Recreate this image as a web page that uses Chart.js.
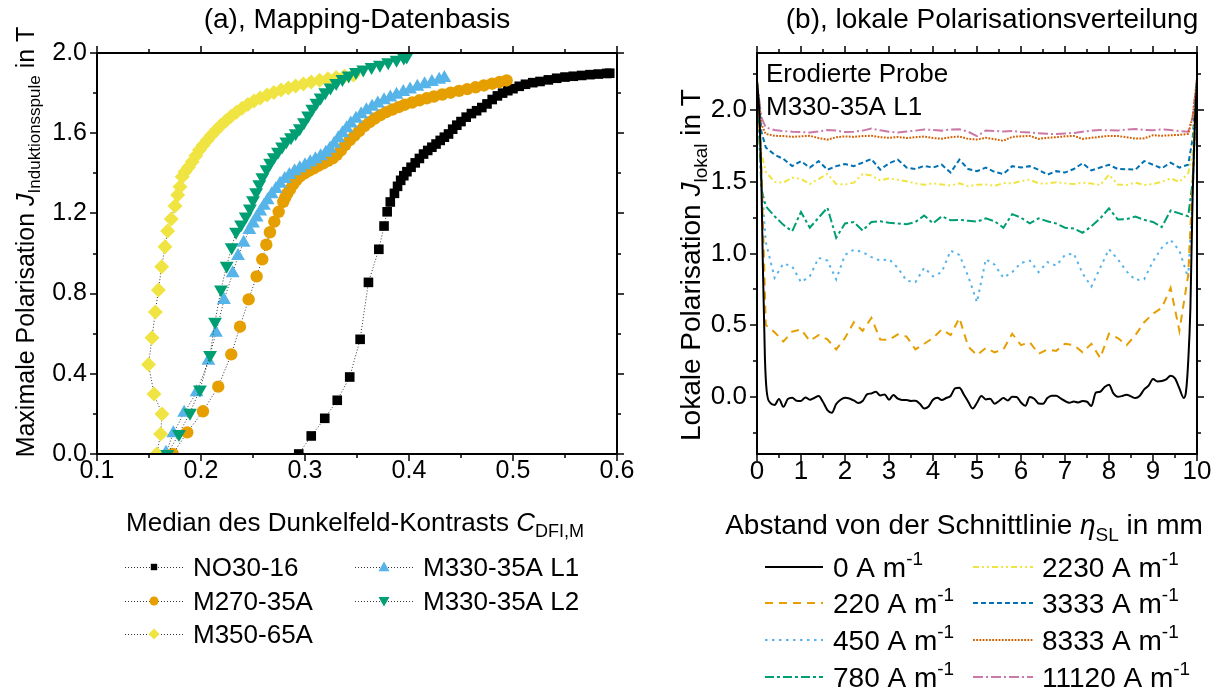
<!DOCTYPE html>
<html lang="de">
<head>
<meta charset="UTF-8">
<title>Polarisation</title>
<script src="https://cdn.jsdelivr.net/npm/chart.js@4.4.1/dist/chart.umd.min.js"></script>
<style>
    html, body { margin: 0; padding: 0; background: #fff; }
    #wrap { position: relative; width: 1219px; height: 688px; }
    #chartA { position: absolute; left: 0; top: 0; }
    #chartB { position: absolute; left: 640px; top: 0; }
</style>
</head>
<body>
<div id="wrap">
    <canvas id="chartA" width="640" height="688"></canvas>
    <canvas id="chartB" width="579" height="688"></canvas>
</div>
<script>
    // ---------- (a) Mapping-Datenbasis : [C_DFI,M, J_Induktionsspule] ----------
    const no30 = [[0.294, 0.000], [0.306, 0.090], [0.319, 0.178], [0.331, 0.268], [0.343, 0.384], [0.353, 0.572],
        [0.361, 0.856], [0.371, 1.021], [0.376, 1.137], [0.379, 1.208], [0.382, 1.257],
        [0.386, 1.300], [0.389, 1.335], [0.392, 1.365], [0.395, 1.388], [0.398, 1.408], [0.402, 1.430],
        [0.406, 1.452], [0.410, 1.474], [0.414, 1.496], [0.418, 1.514], [0.422, 1.530], [0.426, 1.546],
        [0.430, 1.564], [0.434, 1.580], [0.438, 1.596], [0.442, 1.620], [0.446, 1.640], [0.450, 1.658],
        [0.455, 1.680], [0.460, 1.698], [0.465, 1.712], [0.470, 1.728], [0.475, 1.746], [0.480, 1.768],
        [0.485, 1.786], [0.490, 1.800], [0.495, 1.812], [0.500, 1.822], [0.506, 1.834], [0.512, 1.844],
        [0.519, 1.852], [0.526, 1.858], [0.534, 1.866], [0.542, 1.874], [0.550, 1.880], [0.558, 1.884],
        [0.566, 1.888], [0.574, 1.892], [0.582, 1.895], [0.590, 1.898], [0.593, 1.899]];
    const m270 = [[0.1728, 0.000], [0.1868, 0.108], [0.2019, 0.213], [0.2166, 0.336], [0.2291, 0.497],
        [0.2375, 0.635], [0.2458, 0.771], [0.2535, 0.886], [0.2589, 0.971], [0.2628, 1.044], [0.2663, 1.106],
        [0.2705, 1.159], [0.2747, 1.208], [0.2791, 1.258], [0.2810, 1.280], [0.2830, 1.300], [0.2856, 1.320],
        [0.2885, 1.345], [0.2915, 1.365], [0.2952, 1.385], [0.2995, 1.400], [0.3040, 1.413], [0.3085, 1.425],
        [0.3130, 1.438], [0.3175, 1.450], [0.3220, 1.462], [0.3265, 1.475], [0.3305, 1.492], [0.3345, 1.515],
        [0.3385, 1.540], [0.3430, 1.565], [0.3475, 1.588], [0.3520, 1.610], [0.3570, 1.635], [0.3620, 1.655],
        [0.3670, 1.673], [0.3725, 1.690], [0.3780, 1.705], [0.3840, 1.718], [0.3900, 1.730], [0.3960, 1.742],
        [0.4030, 1.753], [0.4100, 1.764], [0.4170, 1.774], [0.4240, 1.783], [0.4320, 1.793], [0.4400, 1.802],
        [0.4480, 1.811], [0.4560, 1.820], [0.4640, 1.829], [0.4720, 1.838], [0.4800, 1.847], [0.4870, 1.855],
        [0.4939, 1.863]];
    const m350 = [[0.1574, 0.000], [0.1612, 0.100], [0.1625, 0.200], [0.1548, 0.299], [0.1496, 0.447],
        [0.1529, 0.580], [0.1561, 0.708], [0.1590, 0.818], [0.1622, 0.934], [0.1654, 1.034], [0.1679, 1.112],
        [0.1714, 1.172], [0.1750, 1.237], [0.1776, 1.292], [0.1798, 1.333], [0.1820, 1.383], [0.1846, 1.408],
        [0.1880, 1.430], [0.1915, 1.458], [0.1950, 1.488], [0.1985, 1.516], [0.2020, 1.540], [0.2060, 1.565],
        [0.2100, 1.590], [0.2145, 1.615], [0.2190, 1.638], [0.2240, 1.662], [0.2290, 1.685], [0.2340, 1.705],
        [0.2395, 1.725], [0.2450, 1.743], [0.2510, 1.760], [0.2570, 1.775], [0.2635, 1.790], [0.2700, 1.803],
        [0.2770, 1.815], [0.2840, 1.826], [0.2910, 1.836], [0.2985, 1.846], [0.3060, 1.855], [0.3140, 1.864],
        [0.3220, 1.871], [0.3300, 1.878], [0.3380, 1.884], [0.3465, 1.890]];
    const l1 = [[0.1663, 0.006], [0.1734, 0.103], [0.1838, 0.206], [0.1958, 0.308], [0.2071, 0.465],
        [0.2144, 0.605], [0.2221, 0.768], [0.2305, 0.901], [0.2356, 0.988], [0.2410, 1.054], [0.2465, 1.117],
        [0.2500, 1.150], [0.2535, 1.180], [0.2570, 1.210], [0.2605, 1.238], [0.2640, 1.265], [0.2680, 1.295],
        [0.2720, 1.322], [0.2760, 1.348], [0.2805, 1.372], [0.2850, 1.392], [0.2900, 1.410], [0.2950, 1.425],
        [0.3000, 1.440], [0.3050, 1.455], [0.3100, 1.470], [0.3150, 1.485], [0.3200, 1.502], [0.3240, 1.522],
        [0.3280, 1.548], [0.3320, 1.575], [0.3360, 1.600], [0.3400, 1.625], [0.3440, 1.648], [0.3490, 1.672],
        [0.3540, 1.694], [0.3590, 1.714], [0.3645, 1.732], [0.3700, 1.748], [0.3760, 1.764], [0.3820, 1.778],
        [0.3880, 1.792], [0.3945, 1.805], [0.4010, 1.818], [0.4080, 1.832], [0.4150, 1.844], [0.4220, 1.855],
        [0.4290, 1.866], [0.4340, 1.875]];
    const l2 = [[0.1676, 0.000], [0.1788, 0.100], [0.1894, 0.206], [0.1990, 0.322], [0.2087, 0.494],
        [0.2135, 0.660], [0.2192, 0.821], [0.2247, 0.939], [0.2295, 1.031], [0.2337, 1.109], [0.2385, 1.145],
        [0.2430, 1.185], [0.2470, 1.225], [0.2500, 1.265], [0.2530, 1.305], [0.2560, 1.345], [0.2590, 1.380],
        [0.2630, 1.420], [0.2665, 1.452], [0.2700, 1.480], [0.2740, 1.508], [0.2780, 1.534], [0.2820, 1.558],
        [0.2865, 1.580], [0.2910, 1.600], [0.2950, 1.625], [0.2990, 1.655], [0.3030, 1.688], [0.3070, 1.722],
        [0.3110, 1.752], [0.3150, 1.778], [0.3195, 1.804], [0.3245, 1.828], [0.3300, 1.850], [0.3360, 1.870],
        [0.3420, 1.888], [0.3490, 1.905], [0.3560, 1.918], [0.3640, 1.930], [0.3720, 1.942], [0.3800, 1.954],
        [0.3880, 1.966], [0.3950, 1.978], [0.3978, 1.982]];
    const xTicksA = [0.1, 0.2, 0.3, 0.4, 0.5, 0.6];
    const xMinorA = [0.15, 0.25, 0.35, 0.45, 0.55];
    const yTicksA = [0, 0.4, 0.8, 1.2, 1.6, 2.0];
    const yMinorA = [0.2, 0.6, 1.0, 1.4, 1.8];

    // ---------- (b) lokale Polarisationsverteilung : eta_SL in mm ----------
    const j0 = [[0, 2.2], [0.05, 2.0], [0.1, 1.5], [0.13, 0.97], [0.18, 0.27], [0.22, 0.04],
        [0.3, -0.042], [0.4, -0.058], [0.5, -0.016], [0.6, -0.070], [0.7, -0.016], [0.8, -0.007], [0.9, -0.028],
        [1.0, -0.030], [1.1, -0.005], [1.2, -0.021], [1.3, -0.009], [1.4, 0.005], [1.5, -0.037], [1.6, -0.093], [1.7, -0.112], [1.8, -0.051], [1.9, -0.021],
        [2.0, -0.007], [2.1, -0.012], [2.2, -0.026], [2.3, -0.044], [2.4, -0.030], [2.5, 0.016], [2.6, 0.023], [2.7, 0.035], [2.8, 0.009], [2.9, 0.016],
        [3.0, -0.021], [3.1, 0.012], [3.2, -0.014], [3.3, -0.023], [3.4, -0.023], [3.5, -0.030], [3.6, -0.028], [3.7, -0.049], [3.8, -0.082], [3.9, -0.068],
        [4.0, -0.021], [4.1, -0.007], [4.2, -0.023], [4.3, -0.009], [4.4, 0.005], [4.5, 0.058], [4.6, 0.063], [4.7, 0.016], [4.8, -0.035], [4.9, -0.082],
        [5.0, -0.042], [5.1, 0.005], [5.2, -0.019], [5.3, -0.014], [5.4, -0.049], [5.5, -0.030], [5.6, -0.009], [5.7, -0.026], [5.8, 0.000], [5.9, -0.002],
        [6.0, -0.040], [6.1, -0.063], [6.2, -0.002], [6.3, -0.014], [6.4, -0.047], [6.5, -0.049], [6.6, -0.009], [6.7, 0.007], [6.8, 0.007], [6.9, -0.012],
        [7.0, -0.030], [7.1, -0.042], [7.2, -0.033], [7.3, -0.040], [7.4, -0.030], [7.5, -0.035], [7.6, -0.065], [7.7, 0.028], [7.8, 0.035], [7.9, 0.068],
        [8.0, 0.084], [8.1, 0.023], [8.2, 0.000], [8.3, 0.005], [8.4, 0.014], [8.5, 0.002], [8.6, -0.009], [8.7, 0.007], [8.8, 0.051], [8.9, 0.077],
        [9.0, 0.124], [9.1, 0.107], [9.2, 0.110], [9.3, 0.121], [9.4, 0.147], [9.5, 0.128], [9.6, 0.058], [9.7, -0.009],
        [9.75, 0.035], [9.8, 0.245], [9.85, 0.62], [9.9, 1.4], [9.95, 1.9], [10, 2.2]];
    const etaMm = [0, 0.1, 0.2, 0.4, 0.6, 0.8, 1.0, 1.2, 1.4, 1.6, 1.8, 2.0, 2.2, 2.4, 2.6, 2.8, 3.0, 3.2, 3.4, 3.6,
        3.8, 4.0, 4.2, 4.4, 4.6, 4.8, 5.0, 5.2, 5.4, 5.6, 5.8, 6.0, 6.2, 6.4, 6.6, 6.8, 7.0, 7.2, 7.4, 7.6,
        7.8, 8.0, 8.2, 8.4, 8.6, 8.8, 9.0, 9.2, 9.4, 9.6, 9.8, 9.9, 10];
    const j220 = [2.2, 1.6, 0.50, 0.45, 0.385, 0.455, 0.47, 0.39, 0.43, 0.40,
        0.33, 0.41, 0.52, 0.46, 0.55, 0.40, 0.397, 0.435, 0.42, 0.33,
        0.37, 0.41, 0.47, 0.43, 0.55, 0.35, 0.29, 0.34, 0.31, 0.33,
        0.44, 0.36, 0.38, 0.30, 0.33, 0.32, 0.37, 0.36, 0.31, 0.37,
        0.27, 0.44, 0.41, 0.36, 0.43, 0.52, 0.58, 0.62, 0.76, 0.46,
        0.85, 1.5, 2.2];
    const j450 = [2.2, 1.5, 1.08, 0.83, 0.93, 0.91, 0.80, 0.84, 0.97, 0.95,
        0.82, 0.99, 1.027, 1.01, 0.975, 0.95, 0.96, 0.90, 0.81, 0.80,
        0.90, 0.84, 0.87, 1.02, 0.99, 0.84, 0.66, 0.96, 0.922, 0.83,
        0.87, 0.934, 0.95, 0.87, 0.94, 0.915, 0.99, 1.0, 0.86, 0.77,
        0.90, 1.03, 0.96, 0.875, 0.815, 0.82, 0.945, 1.04, 1.095, 1.02,
        0.83, 1.4, 2.2];
    const j780 = [2.2, 1.45, 1.33, 1.26, 1.20, 1.155, 1.29, 1.18, 1.25, 1.32,
        1.11, 1.21, 1.22, 1.16, 1.22, 1.225, 1.215, 1.21, 1.205, 1.22,
        1.265, 1.21, 1.26, 1.232, 1.235, 1.228, 1.222, 1.245, 1.225, 1.18,
        1.275, 1.25, 1.21, 1.245, 1.225, 1.21, 1.18, 1.175, 1.145, 1.19,
        1.245, 1.315, 1.238, 1.24, 1.258, 1.235, 1.22, 1.185, 1.30, 1.28,
        1.26, 1.50, 2.2];
    const j2230 = [2.2, 1.70, 1.57, 1.50, 1.495, 1.53, 1.52, 1.485, 1.52, 1.555,
        1.485, 1.482, 1.495, 1.555, 1.545, 1.51, 1.525, 1.515, 1.505, 1.49,
        1.48, 1.49, 1.482, 1.475, 1.49, 1.47, 1.48, 1.482, 1.472, 1.492,
        1.49, 1.505, 1.515, 1.49, 1.488, 1.498, 1.49, 1.485, 1.494, 1.488,
        1.478, 1.55, 1.482, 1.478, 1.495, 1.478, 1.485, 1.5, 1.525, 1.5,
        1.56, 1.70, 2.2];
    const j3333 = [2.2, 1.85, 1.74, 1.69, 1.66, 1.61, 1.645, 1.60, 1.645, 1.585,
        1.61, 1.625, 1.61, 1.635, 1.66, 1.585, 1.63, 1.655, 1.60, 1.59,
        1.612, 1.60, 1.62, 1.565, 1.655, 1.59, 1.575, 1.60, 1.57, 1.555,
        1.61, 1.60, 1.61, 1.585, 1.55, 1.575, 1.565, 1.59, 1.63, 1.58,
        1.60, 1.62, 1.59, 1.588, 1.585, 1.645, 1.62, 1.595, 1.635, 1.60,
        1.62, 1.80, 2.2];
    const j8333 = [2.2, 1.9, 1.835, 1.822, 1.82, 1.815, 1.818, 1.822, 1.806, 1.795,
        1.812, 1.818, 1.814, 1.82, 1.822, 1.812, 1.808, 1.814, 1.806, 1.812,
        1.817, 1.806, 1.802, 1.812, 1.817, 1.800, 1.796, 1.808, 1.798, 1.787,
        1.815, 1.818, 1.821, 1.800, 1.808, 1.812, 1.818, 1.821, 1.800, 1.808,
        1.815, 1.821, 1.820, 1.812, 1.803, 1.804, 1.826, 1.822, 1.826, 1.828,
        1.835, 1.95, 2.22];
    const j11120 = [2.2, 1.95, 1.88, 1.862, 1.855, 1.850, 1.848, 1.845, 1.852, 1.862,
        1.858, 1.848, 1.850, 1.858, 1.872, 1.860, 1.850, 1.845, 1.852, 1.858,
        1.866, 1.862, 1.858, 1.866, 1.868, 1.850, 1.82, 1.858, 1.856, 1.852,
        1.856, 1.848, 1.845, 1.840, 1.836, 1.834, 1.838, 1.842, 1.850, 1.858,
        1.862, 1.860, 1.858, 1.866, 1.870, 1.862, 1.860, 1.866, 1.862, 1.855,
        1.85, 1.95, 2.22];
    const xTicksB = [0, 1, 2, 3, 4, 5, 6, 7, 8, 9, 10];
    const xMinorB = [0.5, 1.5, 2.5, 3.5, 4.5, 5.5, 6.5, 7.5, 8.5, 9.5];
    const yTicksB = [0, 0.5, 1.0, 1.5, 2.0];
    const yMinorB = [-0.25, 0.25, 0.75, 1.25, 1.75, 2.25];

    const FONT = '"Liberation Sans", Arial, Helvetica, sans-serif';
    Chart.defaults.font.family = FONT;
    Chart.defaults.color = '#000';

    function pairs(list) { return list.map(p => ({ x: p[0], y: p[1] })); }
    function zip(xs, ys) { return xs.map((x, i) => ({ x: x, y: ys[i] })); }

    // text with italic / sub / superscript parts, y is the baseline
    function rich(ctx, parts, x, y, align, rotate) {
        ctx.save();
        ctx.translate(x, y);
        if (rotate) ctx.rotate(-Math.PI / 2);
        ctx.fillStyle = '#000';
        ctx.textBaseline = 'alphabetic';
        ctx.textAlign = 'left';
        const fonts = parts.map(p => (p.i ? 'italic ' : '') + p.s + 'px ' + FONT);
        let w = 0;
        parts.forEach((p, k) => { ctx.font = fonts[k]; w += ctx.measureText(p.t).width; });
        let cx = align === 'center' ? -w / 2 : 0;
        parts.forEach((p, k) => {
            ctx.font = fonts[k];
            ctx.fillText(p.t, cx, p.dy || 0);
            cx += ctx.measureText(p.t).width;
        });
        ctx.restore();
    }

    function frameTicks(chart, xMaj, xMin, yMaj, yMin) {
        const { ctx, chartArea: a, scales } = chart;
        ctx.save();
        ctx.strokeStyle = '#000';
        ctx.setLineDash([]);
        ctx.lineWidth = 2;
        ctx.strokeRect(a.left, a.top, a.right - a.left, a.bottom - a.top);
        ctx.lineWidth = 1.5;
        ctx.beginPath();
        const mark = (scale, vals, len) => vals.forEach(v => {
            const p = Math.round(scale.getPixelForValue(v));
            if (scale.isHorizontal()) {
                ctx.moveTo(p, a.bottom); ctx.lineTo(p, a.bottom + len);
                ctx.moveTo(p, a.top); ctx.lineTo(p, a.top - len);
            } else {
                ctx.moveTo(a.left, p); ctx.lineTo(a.left - len, p);
                ctx.moveTo(a.right, p); ctx.lineTo(a.right + len, p);
            }
        });
        mark(scales.x, xMaj, 7); mark(scales.x, xMin, 4);
        mark(scales.y, yMaj, 7); mark(scales.y, yMin, 4);
        ctx.stroke();
        ctx.restore();
    }

    function marker(ctx, style, x, y, r, color) {
        ctx.fillStyle = color;
        ctx.beginPath();
        if (style === 'rect') ctx.rect(x - r, y - r, 2 * r, 2 * r);
        else if (style === 'circle') ctx.arc(x, y, r, 0, Math.PI * 2);
        else if (style === 'diamond') { ctx.moveTo(x, y - r); ctx.lineTo(x + r, y); ctx.lineTo(x, y + r); ctx.lineTo(x - r, y); }
        else if (style === 'up') { ctx.moveTo(x, y - r); ctx.lineTo(x + r, y + r * 0.75); ctx.lineTo(x - r, y + r * 0.75); }
        else { ctx.moveTo(x, y + r); ctx.lineTo(x + r, y - r * 0.75); ctx.lineTo(x - r, y - r * 0.75); }
        ctx.closePath();
        ctx.fill();
    }

    function scaleOpts(min, max, ticks, size, fmt, pad, isX, extent) {
        return {
            type: 'linear', min: min, max: max,
            grid: { display: false, drawTicks: false },
            border: { display: false },
            afterBuildTicks: s => { s.ticks = ticks.map(v => ({ value: v })); },
            afterFit: s => {
                if (isX) s.height = extent; else s.width = extent;
                s.paddingLeft = 0; s.paddingRight = 0; s.paddingTop = 0; s.paddingBottom = 0;
            },
            ticks: { padding: pad, color: '#000', font: { size: size }, autoSkip: false, maxRotation: 0, callback: fmt }
        };
    }

    // ---------- chart (a) ----------
    const colorsA = ['#000000', '#E69F00', '#F0E442', '#56B4E9', '#009E73'];
    const markA = ['rect', 'circle', 'diamond', 'up', 'down'];
    function seriesA(label, list, i, style, r, rot) {
        return {
            label: label, data: pairs(list), showLine: true, order: -i,
            borderColor: '#333', borderWidth: 1, borderDash: [1, 2], tension: 0,
            pointStyle: style, pointRadius: r, pointRotation: rot,
            pointBackgroundColor: colorsA[i], pointBorderColor: colorsA[i], pointBorderWidth: 0,
            pointHoverRadius: r
        };
    }

    new Chart(document.getElementById('chartA'), {
        type: 'scatter',
        data: {
            datasets: [
                seriesA('NO30-16', no30, 0, 'rect', 6.8, 0),
                seriesA('M270-35A', m270, 1, 'circle', 6.2, 0),
                seriesA('M350-65A', m350, 2, 'rectRot', 7.5, 0),
                seriesA('M330-35A L1', l1, 3, 'triangle', 8, 0),
                seriesA('M330-35A L2', l2, 4, 'triangle', 8, 180)
            ]
        },
        options: {
            responsive: false, animation: false, devicePixelRatio: 1,
            layout: { padding: { left: 0, right: 23, top: 53, bottom: 0 } },
            plugins: { legend: { display: false }, tooltip: { enabled: false } },
            scales: {
                x: scaleOpts(0.1, 0.6, xTicksA, 25, v => v.toFixed(1), 2, true, 234),
                y: scaleOpts(0, 2.0, yTicksA, 25, v => v.toFixed(1), 10, false, 97)
            }
        },
        plugins: [{
            id: 'decorA',
            afterDraw(chart) {
                const ctx = chart.ctx;
                frameTicks(chart, xTicksA, xMinorA, yTicksA, yMinorA);
                rich(ctx, [{ t: '(a), Mapping-Datenbasis', s: 28 }], 357, 28, 'center');
                rich(ctx, [{ t: 'Median des Dunkelfeld-Kontrasts ', s: 26 }, { t: 'C', s: 26, i: 1 },
                    { t: 'DFI,M', s: 18, dy: 6 }], 355, 531, 'center');
                rich(ctx, [{ t: 'Maximale Polarisation ', s: 25 }, { t: 'J', s: 25, i: 1 },
                    { t: 'Induktionsspule', s: 17, dy: 6 }, { t: ' in T', s: 25 }], 34, 242, 'center', true);
                // legend
                const rows = [567, 601, 634];
                const cols = [[125, 183, 154, 193], [355, 413, 384, 423]];
                const sizes = [3.2, 4.5, 5.5, 5.5, 5.5];
                chart.data.datasets.forEach((ds, i) => {
                    const c = cols[i < 3 ? 0 : 1], y = rows[i < 3 ? i : i - 3];
                    ctx.save();
                    ctx.strokeStyle = '#333'; ctx.lineWidth = 1; ctx.setLineDash([1, 2]);
                    ctx.beginPath(); ctx.moveTo(c[0], y + 0.5); ctx.lineTo(c[1], y + 0.5); ctx.stroke();
                    ctx.restore();
                    marker(ctx, markA[i], c[2], y, sizes[i], colorsA[i]);
                    rich(ctx, [{ t: ds.label, s: 26 }], c[3], y + 9, 'left');
                });
            }
        }]
    });

    // ---------- chart (b) ----------
    const colorsB = ['#000000', '#E69F00', '#56B4E9', '#009E73', '#F0E442', '#0072B2', '#D55E00', '#CC79A7'];
    const dashB = [[], [8, 6], [2.5, 4.5], [9, 3, 3, 3], [6, 3, 2, 3, 2, 3], [5, 3], [1.8, 1.4], [10, 3, 2, 3]];
    const namesB = ['0', '220', '450', '780', '2230', '3333', '8333', '11120'];
    const valuesB = [null, j220, j450, j780, j2230, j3333, j8333, j11120];

    const datasetsB = namesB.map((n, i) => ({
        label: n,
        data: i === 0 ? pairs(j0) : zip(etaMm, valuesB[i]),
        borderColor: colorsB[i], borderWidth: 2, borderDash: dashB[i],
        pointRadius: 0, fill: false,
        tension: 0, cubicInterpolationMode: i === 0 ? 'monotone' : 'default'
    }));

    new Chart(document.getElementById('chartB'), {
        type: 'line',
        data: { datasets: datasetsB },
        options: {
            responsive: false, animation: false, devicePixelRatio: 1,
            layout: { padding: { left: 0, right: 22, top: 53, bottom: 0 } },
            plugins: { legend: { display: false }, tooltip: { enabled: false } },
            scales: {
                x: scaleOpts(0, 10, xTicksB, 26, v => String(v), 2, true, 234),
                y: scaleOpts(-0.4, 2.4, yTicksB, 26, v => v.toFixed(1), 10, false, 117)
            }
        },
        plugins: [{
            id: 'decorB',
            afterDraw(chart) {
                const ctx = chart.ctx;
                frameTicks(chart, xTicksB, xMinorB, yTicksB, yMinorB);
                rich(ctx, [{ t: '(b), lokale Polarisationsverteilung', s: 28 }], 352, 28, 'center');
                rich(ctx, [{ t: 'Abstand von der Schnittlinie ', s: 28 }, { t: 'η', s: 28, i: 1 },
                    { t: 'SL', s: 19, dy: 7 }, { t: ' in mm', s: 28 }], 324, 534, 'center');
                rich(ctx, [{ t: 'Lokale Polarisation ', s: 28 }, { t: 'J', s: 28, i: 1 },
                    { t: 'lokal', s: 19, dy: 7 }, { t: ' in T', s: 28 }], 60, 265, 'center', true);
                rich(ctx, [{ t: 'Erodierte Probe', s: 26 }], 126, 82, 'left');
                rich(ctx, [{ t: 'M330-35A L1', s: 26 }], 126, 115, 'left');
                // legend
                const rows = [567, 603, 640, 677];
                const cols = [[125, 183, 193], [333, 393, 402]];
                chart.data.datasets.forEach((ds, i) => {
                    const c = cols[i < 4 ? 0 : 1], y = rows[i % 4];
                    ctx.save();
                    ctx.strokeStyle = colorsB[i]; ctx.lineWidth = 2; ctx.setLineDash(dashB[i]);
                    ctx.beginPath(); ctx.moveTo(c[0], y); ctx.lineTo(c[1], y); ctx.stroke();
                    ctx.restore();
                    rich(ctx, [{ t: ds.label + ' A m', s: 28 }, { t: '-1', s: 19, dy: -12 }], c[2], y + 10, 'left');
                });
            }
        }]
    });
</script>
</body>
</html>
